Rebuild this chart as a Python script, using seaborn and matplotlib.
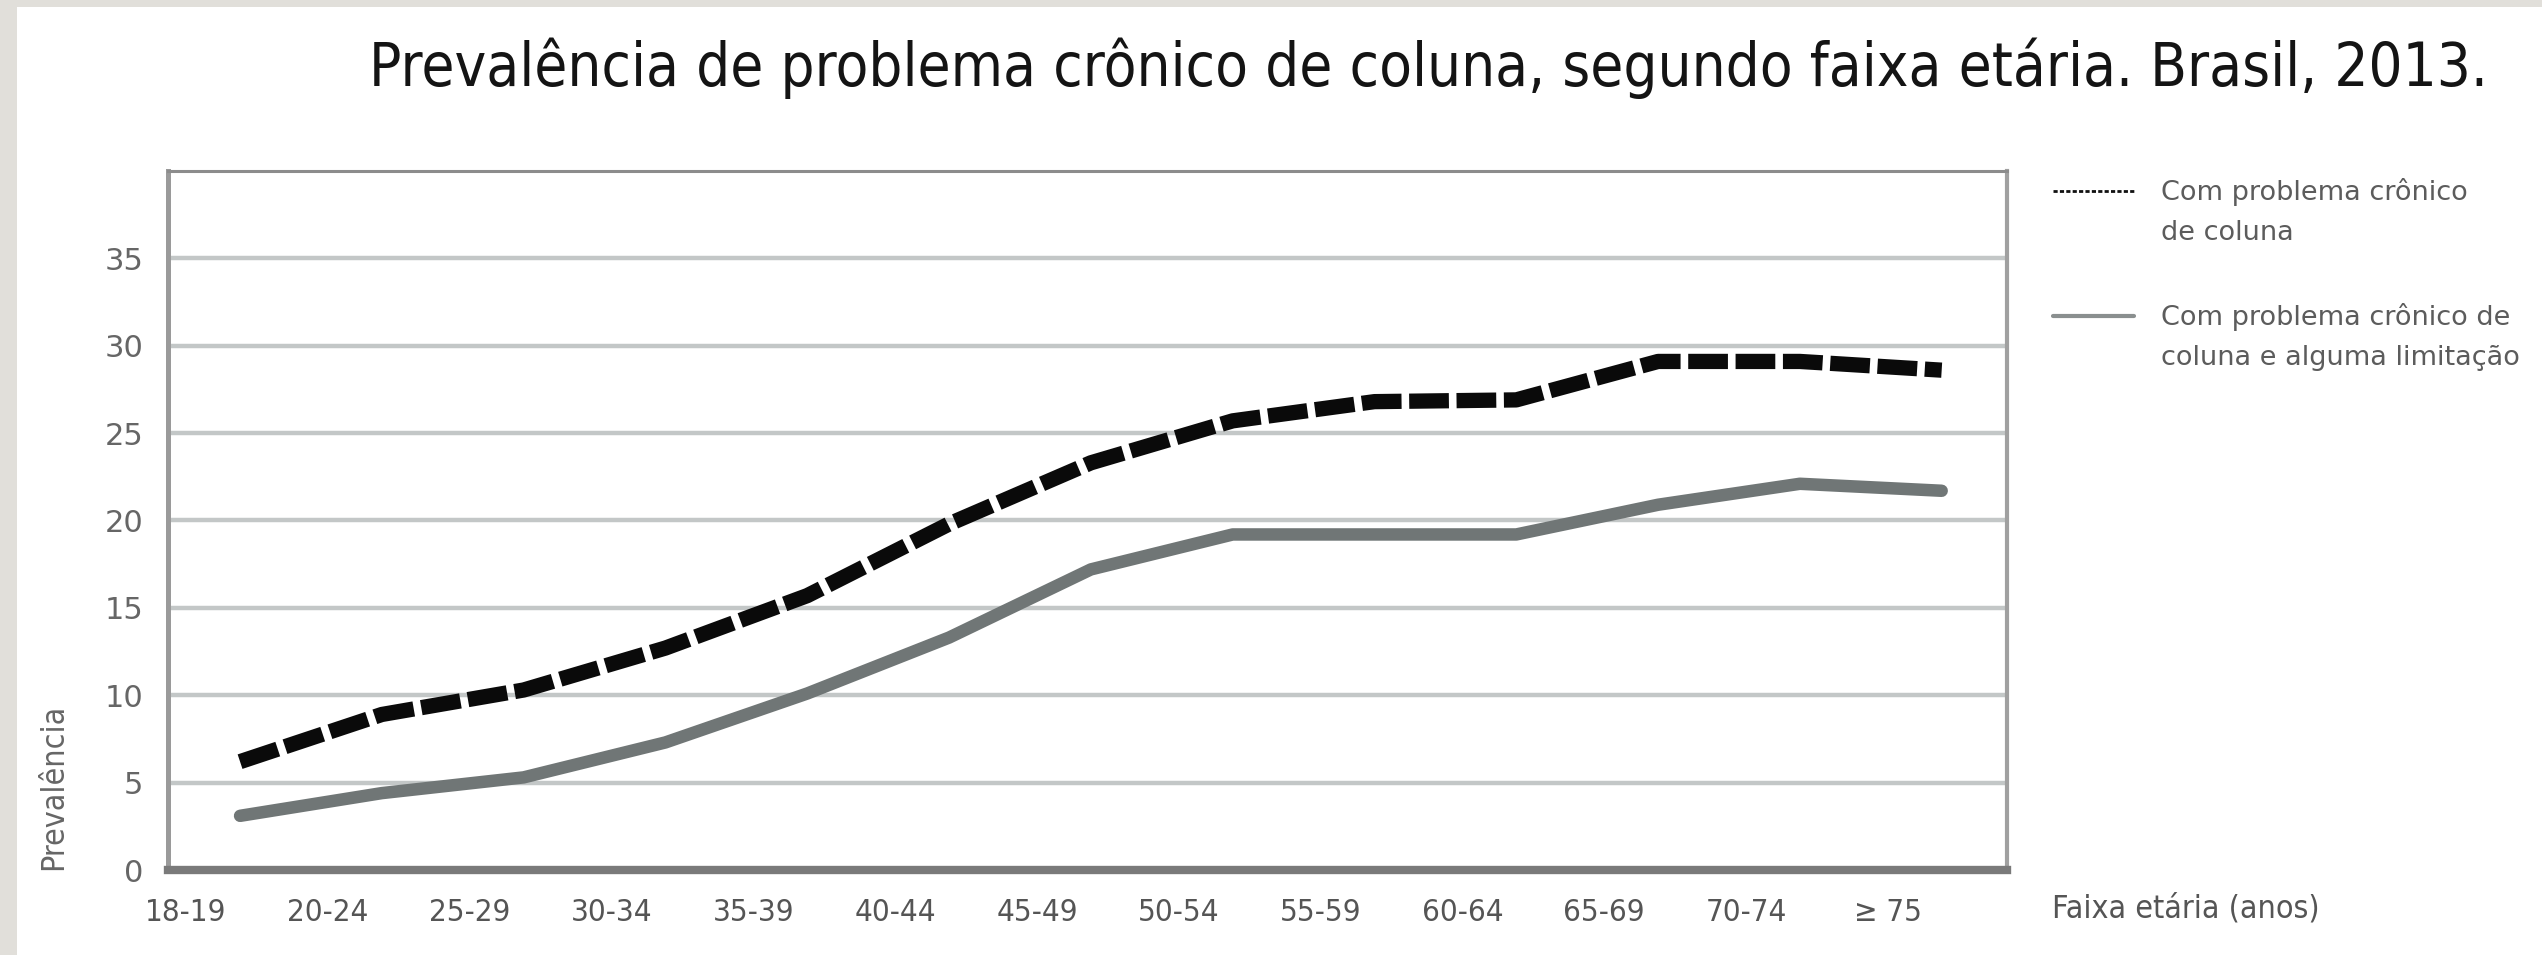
import numpy as np
import pandas as pd
import seaborn as sns
import matplotlib.pyplot as plt
from matplotlib.lines import Line2D
from matplotlib.legend_handler import HandlerLine2D
from matplotlib.patches import Rectangle

# dados (prevalencia, %)
faixas = ["18-19", "20-24", "25-29", "30-34", "35-39", "40-44", "45-49",
          "50-54", "55-59", "60-64", "65-69", "70-74", "≥ 75"]
com_problema = [6.2, 8.9, 10.3, 12.7, 15.7, 19.8, 23.3, 25.7, 26.8, 26.9, 29.1, 29.1, 28.6]
com_limitacao = [3.1, 4.4, 5.3, 7.3, 10.1, 13.3, 17.2, 19.2, 19.2, 19.2, 20.9, 22.1, 21.7]
y_ticks = [0, 5, 10, 15, 20, 25, 30, 35]
rotulos = ["Com problema crônico\nde coluna",
           "Com problema crônico de\ncoluna e alguma limitação"]

df = pd.DataFrame({
    "pos": list(range(len(faixas))) * 2,
    "prev": com_problema + com_limitacao,
    "serie": ["a"] * len(faixas) + ["b"] * len(faixas),
})

sns.set_style("white")
plt.rcParams["font.family"] = ["DejaVu Sans"]
narrow = dict(family=["DejaVu Sans"], stretch="condensed")

fig = plt.figure(figsize=(25.42, 9.55), dpi=100)
fig.patch.set_facecolor("#e1dfda")
fig.add_artist(Rectangle((17 / 2542, 0), 1, 1 - 7 / 955, transform=fig.transFigure,
                         facecolor="white", edgecolor="none", zorder=-5))
ax = fig.add_axes([0.0661, 0.089, 0.7234, 0.732])
ax.set_facecolor("white")

sns.lineplot(data=df, x="pos", y="prev", hue="serie", style="serie", size="serie",
             palette={"a": "#0a0a0a", "b": "#707676"},
             dashes={"a": (2.6, 0.5), "b": ""},
             sizes={"a": 11, "b": 9},
             legend=False, ax=ax,
             dash_capstyle="butt", solid_capstyle="round", solid_joinstyle="round")

ax.set_xlim(-0.508, 12.46)
ax.set_ylim(0, 40)
ax.set_yticks(y_ticks)
ax.set_yticklabels([str(v) for v in y_ticks], fontsize=22, color="#666666")
ax.set_xticks(np.arange(len(faixas)) - 0.38)
ax.set_xticklabels(faixas, fontsize=22.5, color="#555555", **narrow)
ax.set_xlabel("")
ax.set_ylabel("")
ax.set_axisbelow(True)
ax.yaxis.grid(True, color="#c3c7c7", lw=3.2)
ax.xaxis.grid(False)
ax.tick_params(axis="y", length=0, pad=18)
ax.tick_params(axis="x", direction="in", length=11, width=1.6, color="#333333", pad=20)

for side, lw, col in [("left", 3.6, "#9a9a9a"), ("right", 3.0, "#a0a0a0"),
                      ("top", 2.2, "#8c8c8c"), ("bottom", 6, "#7a7a7a")]:
    ax.spines[side].set_visible(True)
    ax.spines[side].set_linewidth(lw)
    ax.spines[side].set_color(col)

ax.text(-0.062, 0, "Prevalência", rotation=90, ha="center", va="bottom",
        transform=ax.transAxes, fontsize=23, color="#666666", **narrow)
ax.text(1.0245, -0.0558, "Faixa etária (anos)", ha="left", va="center",
        transform=ax.transAxes, fontsize=23, color="#555555", **narrow)

fig.text(0.562, 0.929, "Prevalência de problema crônico de coluna, segundo faixa etária. Brasil, 2013.",
         ha="center", va="center", fontsize=43, color="#141414", **narrow)


class TopLine(HandlerLine2D):
    # alinha a chave com a primeira linha do texto
    def create_artists(self, legend, orig_handle, xdescent, ydescent, width, height, fontsize, trans):
        arts = super().create_artists(legend, orig_handle, xdescent, ydescent, width, height, fontsize, trans)
        for a in arts:
            a.set_ydata(np.asarray(a.get_ydata()) + 0.8 * fontsize)
        return arts


handles = [Line2D([], [], color="#111111", lw=2, dashes=(1.5, 0.8)),
           Line2D([], [], color="#8a8f8f", lw=3)]
leg = ax.legend(handles, rotulos, loc="upper left", bbox_to_anchor=(1.025, 0.99),
                frameon=False, fontsize=19.5, handlelength=3.0, handletextpad=1.0,
                labelspacing=2.1, borderpad=0, borderaxespad=0,
                handler_map={Line2D: TopLine()})
for t in leg.get_texts():
    t.set_color("#5c5c5c")
    t.set_linespacing(1.7)

fig.savefig("out.png", dpi=100)
